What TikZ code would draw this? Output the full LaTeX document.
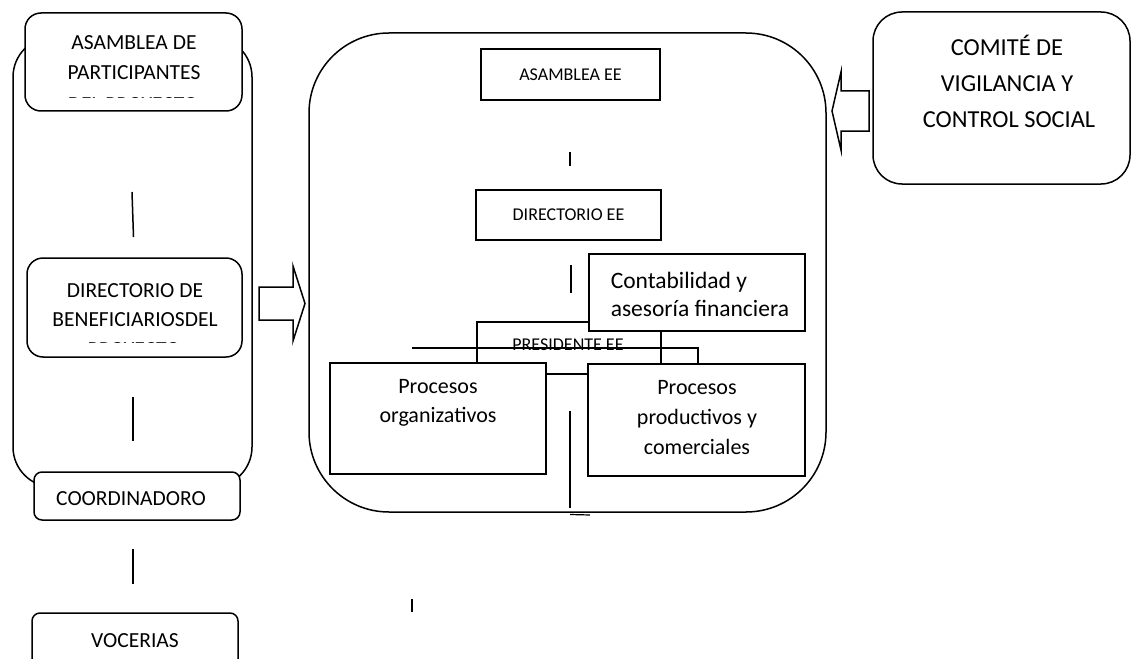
\documentclass[tikz,border=0pt]{standalone}
\usepackage{fontspec}
\setmainfont{Carlito}
\begin{document}
\begin{tikzpicture}[x=1pt,y=-1pt,line width=1.5pt,
  bx/.style={draw,fill=white,inner sep=0pt,outer sep=0pt},
  txt/.style={inner sep=0pt,anchor=base,font=\fontsize{21.5}{30}\selectfont},
  txtp/.style={inner sep=0pt,anchor=base,font=\fontsize{22}{30}\selectfont},
  txtc/.style={inner sep=0pt,anchor=base west,font=\fontsize{23.5}{30}\selectfont},
  txts/.style={inner sep=0pt,anchor=base,font=\fontsize{18}{24}\selectfont},
  txtb/.style={inner sep=0pt,anchor=base,font=\fontsize{24.4}{36}\selectfont},
  conn/.style={line width=1.5pt},
  blockarrow/.style={draw,fill=white,line width=1.5pt,line join=miter}]
\clip (0,0) rectangle (1134,658);
\useasboundingbox (0,0) rectangle (1134,658);

% ---------------- left column ----------------
\node[bx,anchor=north west,minimum width=239pt,minimum height=450pt,rounded corners=40pt] (outer) at (13,37) {};

\node[bx,anchor=north west,minimum width=217pt,minimum height=98pt,rounded corners=16pt] (asp) at (25,13) {};
\node[txt] (asp1) at (134,50) {ASAMBLEA DE};
\node[txt] (asp2) at (134,80) {PARTICIPANTES};
\begin{scope}
  \clip (26,14) rectangle (241,97.5);
  \node[txt] (asp3) at (133,111.2) {DEL PROYECTO};
\end{scope}

\coordinate (l1a) at (132,192);
\coordinate (l1b) at (133.5,237);
\draw[conn] (l1a) -- (l1b);

\node[bx,anchor=north west,minimum width=215pt,minimum height=99pt,rounded corners=16pt] (dir) at (27,258) {};
\node[txt] (dir1) at (135,297) {DIRECTORIO DE};
\node[txt] (dir2) at (135,326) {BENEFICIARIOSDEL};
\begin{scope}
  \clip (28,259) rectangle (241,342.5);
  \node[txt] (dir3) at (134,356) {PROYECTO};
\end{scope}

\coordinate (l2a) at (133,397);
\coordinate (l2b) at (133,441);
\draw[conn] (l2a) -- (l2b);

\node[bx,anchor=north west,minimum width=206pt,minimum height=48pt,rounded corners=8pt] (coord) at (34,472) {};
\node[txt] (coordt) at (131,505) {COORDINADORO};

\coordinate (l3a) at (133,549);
\coordinate (l3b) at (133,584);
\draw[conn] (l3a) -- (l3b);

\node[bx,anchor=north west,minimum width=206pt,minimum height=60pt,rounded corners=8pt] (voc) at (32,613) {};
\node[txt] (voct) at (135,647) {VOCERIAS};

% right-pointing block arrow
\draw[blockarrow] (259,287) -- (293,287) -- (293,266) -- (305,303.5) -- (293,341) -- (293,320) -- (259,320) -- cycle;

% ---------------- middle block ----------------
\node[bx,anchor=north west,minimum width=517pt,minimum height=479pt,rounded corners=80pt] (mid) at (309,33) {};

\node[bx,minimum width=179pt,minimum height=51pt,font=\fontsize{18}{24}\selectfont] (aee) at (570.5,74.5) {ASAMBLEA EE};
\coordinate (m1a) at (570,152);
\coordinate (m1b) at (570,166);
\draw[conn] (m1a) -- (m1b);

\node[bx,minimum width=185pt,minimum height=50pt,font=\fontsize{18}{24}\selectfont] (dee) at (568.5,215) {DIRECTORIO EE};
\coordinate (m2a) at (571,265);
\coordinate (m2b) at (571,293);
\draw[conn] (m2a) -- (m2b);

% presidente box (partly hidden)
\node[draw,fill=white,inner sep=0pt,anchor=north west,minimum width=184pt,minimum height=52pt] (pres) at (476,321) {};
\node[txts] (prest) at (568,350.5) {PRESIDENTE EE};

\node[bx,anchor=north west,minimum width=216pt,minimum height=77pt] (cont) at (589,254) {};
\node[txtc] (cont1) at (610,288) {Contabilidad y};
\node[txtc] (cont2) at (610,316) {asesoría financiera};

\coordinate (h1) at (412,348);
\coordinate (h2) at (698,348);
\coordinate (h3) at (698,364);
\draw[conn] (h1) -- (h2) -- (h3);

\node[bx,anchor=north west,minimum width=216pt,minimum height=111pt] (porg) at (330,363) {};
\node[txtp] (porg1) at (438,393) {Procesos};
\node[txtp] (porg2) at (438,422) {organizativos};

\node[bx,anchor=north west,minimum width=217pt,minimum height=112pt] (pprod) at (588,364) {};
\node[txtp] (pprod1) at (697,394) {Procesos};
\node[txtp] (pprod2) at (697,424) {productivos y};
\node[txtp] (pprod3) at (697,454) {comerciales};

\coordinate (v1a) at (570,411);
\coordinate (v1b) at (570,508);
\draw[conn] (v1a) -- (v1b);
\coordinate (w1) at (570,514.5);
\coordinate (w2) at (590,515);
\draw[line width=1.2pt] (w1) -- (w2);

\coordinate (t1a) at (412,599);
\coordinate (t1b) at (412,612);
\draw[conn] (t1a) -- (t1b);

% ---------------- right ----------------
\node[bx,anchor=north west,minimum width=257pt,minimum height=172pt,rounded corners=29pt] (comite) at (873,12) {};
\node[txtb] (com1) at (1007,56) {COMITÉ DE};
\node[txtb] (com2) at (1007,92) {VIGILANCIA Y};
\node[txtb] (com3) at (1009,128) {CONTROL SOCIAL};

% left-pointing block arrow
\draw[blockarrow] (869,91) -- (841,91) -- (841,72) -- (832,111) -- (841,150) -- (841,131) -- (869,131) -- cycle;
\end{tikzpicture}
\end{document}
